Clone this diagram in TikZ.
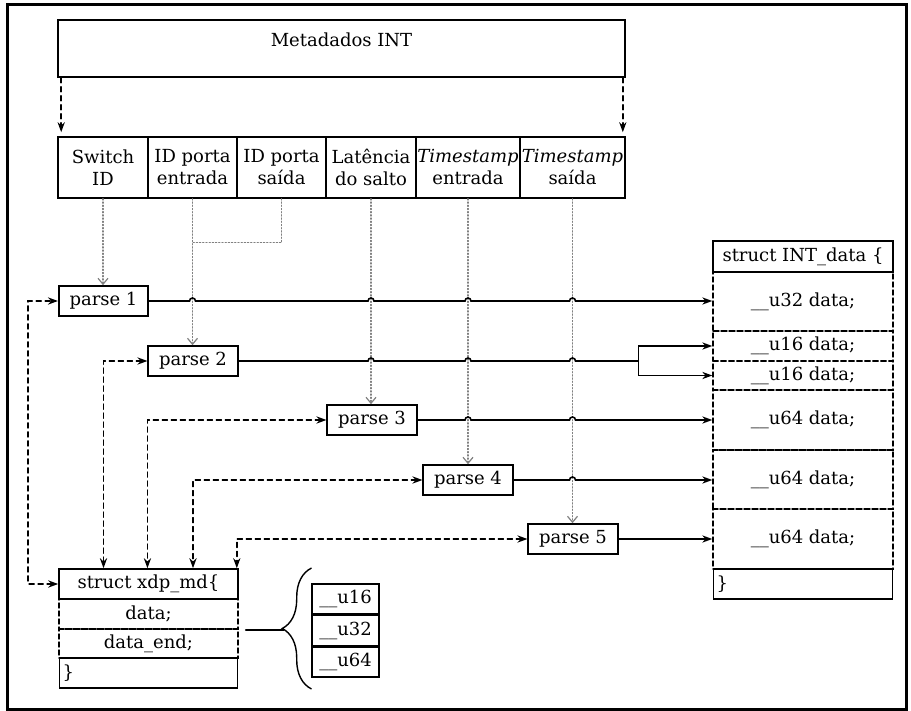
\documentclass[tikz,border=0pt]{standalone}
\usepackage{fontspec}
\setmainfont{DejaVu Serif}
\usetikzlibrary{arrows.meta,calc,decorations.pathreplacing}

% small bump where a solid line passes over a dotted one
\newcommand{\hop}[2]{-- ($(#1 -| #2)-(1.5pt,0)$) arc[start angle=180,end angle=0,radius=1.5pt]}

\begin{document}
\begin{tikzpicture}[x=0.5pt,y=0.5pt,line cap=round,
  font=\fontsize{9}{11}\selectfont,
  >={Stealth[length=5pt,width=3.6pt]},
  box/.style={draw,line width=0.8pt,inner sep=0pt,minimum height=15pt,align=center},
  field/.style={box,minimum height=30.5pt},
  slot/.style={draw,line width=0.7pt,dash pattern=on 2.5pt off 1.5pt,inner sep=0pt,
    minimum width=90pt,align=center},
  closer/.style={box,text width=86.5pt,inner xsep=1.5pt,align=left},
  feed/.style={line width=0.8pt,dash pattern=on 2.5pt off 2pt,<->},
  pick/.style={gray,line width=0.6pt,densely dotted,-{Straight Barb[length=3pt,width=5pt]}},
  link/.style={line width=0.8pt,->}]
  \useasboundingbox (0,0) rectangle (911,-711);
  \draw[line width=1.5pt] (7,-5) rectangle (906,-709);

  % metadata header
  \node[box,minimum width=283.5pt,minimum height=28.5pt] (meta) at (341.5,-48.5) {};
  \node (metatitle) at (341.5,-40) {Metadados INT};

  \node[field,minimum width=45pt]   (sw)      at (103,-167.5)   {Switch\\ID};
  \node[field,minimum width=44.5pt] (inport)  at (192.5,-167.5) {ID porta\\entrada};
  \node[field,minimum width=44.5pt] (outport) at (281.5,-167.5) {ID porta\\saída};
  \node[field,minimum width=45pt]   (lat)     at (371,-167.5)   {Latência\\do salto};
  \node[field,minimum width=52pt]   (tsin)    at (468,-167.5)   {\textit{Timestamp}\\entrada};
  \node[field,minimum width=52.5pt] (tsout)   at (572.5,-167.5) {\textit{Timestamp}\\saída};

  \draw[line width=0.8pt,dash pattern=on 2.5pt off 2pt,->,shorten >=2pt]
    ([xshift=2pt]meta.south west) -- ([xshift=2pt]sw.north west);
  \draw[line width=0.8pt,dash pattern=on 2.5pt off 2pt,->,shorten >=2pt]
    ([xshift=-1.5pt]meta.south east) -- ([xshift=-1.5pt]tsout.north east);

  % parsers
  \node[box,minimum width=44.75pt] (p1) at (103.5,-301) {parse 1};
  \node[box,minimum width=44.75pt] (p2) at (193,-361)   {parse 2};
  \node[box,minimum width=44.75pt] (p3) at (372,-420)   {parse 3};
  \node[box,minimum width=44.75pt] (p4) at (468,-480)   {parse 4};
  \node[box,minimum width=44.75pt] (p5) at (573,-539)   {parse 5};

  \draw[pick] (sw.south) -- (sw.south |- p1.north);
  \draw[pick] (inport.south) -- (inport.south |- p2.north);
  \draw[pick,-] (outport.south) |- ($(inport.south)+(0,-44)$);
  \draw[pick] (lat.south) -- (lat.south |- p3.north);
  \draw[pick] (tsin.south) -- (tsin.south |- p4.north);
  \draw[pick] (tsout.south) -- (tsout.south |- p5.north);

  % struct INT_data
  \node[slot,minimum height=29.5pt] (r1) at (803,-301.5) {\_\_u32 data;};
  \node[slot,minimum height=15pt]   (r2) at (803,-346)   {\_\_u16 data;};
  \node[slot,minimum height=14.5pt] (r3) at (803,-375.5) {\_\_u16 data;};
  \node[slot,minimum height=30pt]   (r4) at (803,-420)   {\_\_u64 data;};
  \node[slot,minimum height=29.5pt] (r5) at (803,-479.5) {\_\_u64 data;};
  \node[slot,minimum height=30pt]   (r6) at (803,-539)   {\_\_u64 data;};
  \node[box,minimum width=90pt,minimum height=15.5pt] (ihead) at (803,-256.5) {struct INT\_data \{};
  \node[closer] (iend) at (803,-584) {\}};

  \draw[link] (p1.east) \hop{p1.east}{inport.south} \hop{p1.east}{lat.south}
    \hop{p1.east}{tsin.south} \hop{p1.east}{tsout.south} -- (p1.east -| r1.west);
  \coordinate (fork) at ($(p2.east -| r2.west)+(-74,0)$);
  \draw[line width=0.8pt] (p2.east) \hop{p2.east}{lat.south} \hop{p2.east}{tsin.south}
    \hop{p2.east}{tsout.south} -- (fork);
  \draw[link] (fork) |- (r2.west);
  \draw[link] (fork) |- (r3.west);
  \draw[link] (p3.east) \hop{p3.east}{tsin.south} \hop{p3.east}{tsout.south} -- (p3.east -| r4.west);
  \draw[link] (p4.east) \hop{p4.east}{tsout.south} -- (p4.east -| r5.west);
  \draw[link] (p5.east) -- (p5.east -| r6.west);

  % struct xdp_md
  \node[slot,minimum width=89.5pt,minimum height=15pt] (xd) at (148.5,-614)   {data;};
  \node[slot,minimum width=89.5pt,minimum height=14.5pt] (xe) at (148.5,-643.5) {data\_end;};
  \node[box,minimum width=89.5pt] (xh) at (148.5,-584) {struct xdp\_md\{};
  \node[closer,text width=86pt] (xc) at (148.5,-673) {\}};

  \draw[feed] (xh.west) -- ++(-30,0) |- (p1.west);
  \draw[feed] (p2.west) -| (xh.north -| p1.south);
  \draw[feed] (p3.west) -| (xh.north -| p2.west);
  \draw[feed] (p4.west) -| (xh.north -| p2.south);
  \draw[feed] (p5.west) -| ([xshift=-1pt]xh.north east);

  % pointer types
  \node[box,minimum width=33.5pt] (t16) at (345.5,-599) {\_\_u16};
  \node[box,minimum width=33.5pt,anchor=north] (t32) at (t16.south) {\_\_u32};
  \node[box,minimum width=33.5pt,anchor=north] (t64) at (t32.south) {\_\_u64};

  \draw[line width=0.7pt,decorate,decoration={brace,amplitude=14.5pt}]
    (t64.west |- xc.south) -- (t16.west |- xh.north);
  \draw[line width=0.8pt] ([xshift=3.5pt]xd.south east) -- ++(38,0);
\end{tikzpicture}
\end{document}
